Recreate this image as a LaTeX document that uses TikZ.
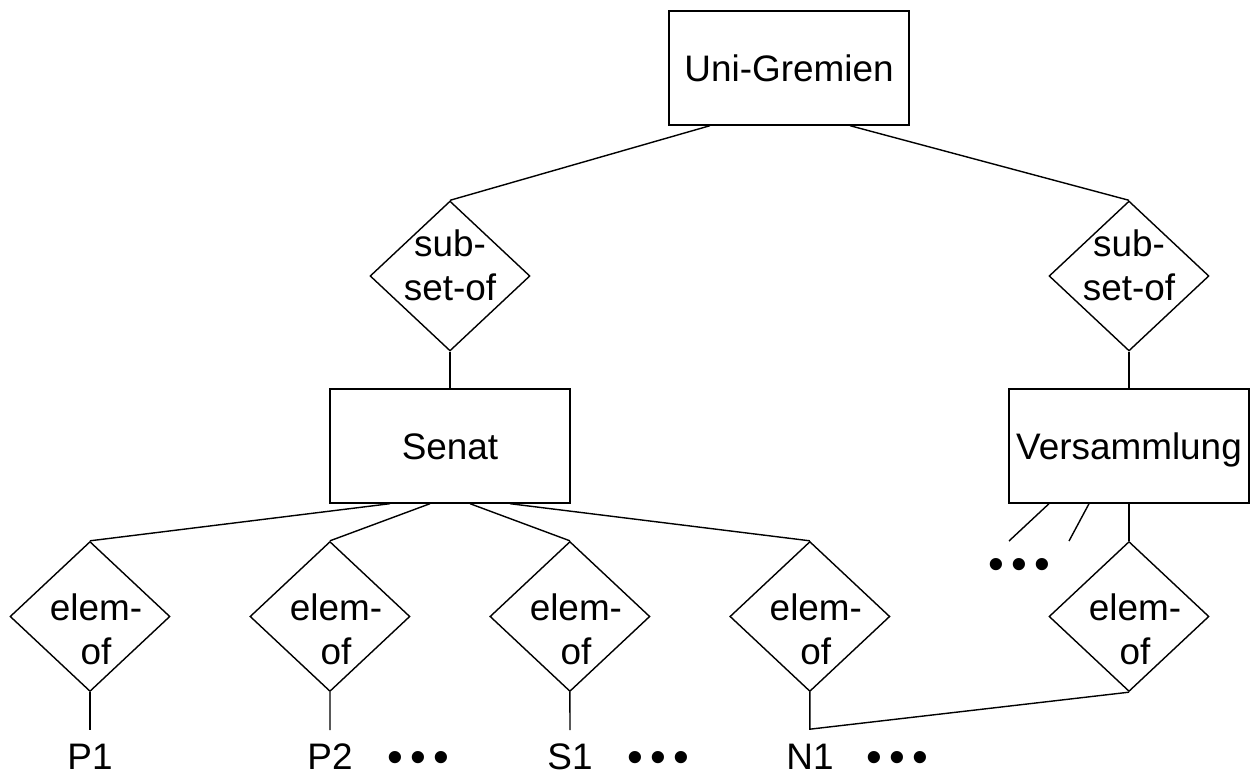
\documentclass[tikz,border=0pt]{standalone}
\usepackage{fontspec}
\setmainfont{Liberation Sans}
\usetikzlibrary{shapes.geometric}
\usetikzlibrary{positioning}
\usetikzlibrary{calc}
\newcommand{\relname}[4]{\raisebox{#2}[0pt][0pt]{\makebox[0pt]{\hspace*{#1}\begin{tabular}{@{}c@{}}#3\\#4\end{tabular}}}}
\newcommand{\moredots}{\raisebox{-0.35em}[0.15em][0.15em]{\textbullet\hspace{0.145cm}\textbullet\hspace{0.145cm}\textbullet}}
\tikzset{
    x=0.02cm, y=-0.02cm,
    node distance=4.8cm,
    every node/.append style={
        font=\fontsize{21}{25}\selectfont
    },
    entity/.style={
        draw,
        minimum width=4.8cm,
        minimum height=2.28cm,
        text height=15pt,
        text depth=0pt,
        inner sep=0pt
    },
    rel/.style={
        draw,
        diamond,
        minimum width=3.2cm,
        minimum height=3cm,
        inner sep=0pt
    },
    instance/.style={
        anchor=base,
        inner sep=0pt
    },
    etc/.style={
        inner sep=0pt,
        font=\fontsize{25.6}{30}\selectfont
    }
}

\begin{document}
\begin{tikzpicture}[line width=0.8pt]
                \useasboundingbox (0,0) rectangle (1250,776);

                \node[entity] (uni) at (789,68) {Uni-Gremien};
                \node[rel] (subl) at (450,276) {\relname{0pt}{-0.05cm}{sub-}{set-of}};
                \node[rel] (subr) at (1129,276) {\relname{0pt}{-0.05cm}{sub-}{set-of}};
                \node[entity] (senat) at (450,446) {Senat};
                \node[entity] (vers) at (1129,446) {Versammlung};

                \node[rel] (e1) at (90,616.5) {\relname{0.24cm}{-0.52cm}{elem-}{of}};
                \node[rel, right of=e1] (e2) {\relname{0.24cm}{-0.52cm}{elem-}{of}};
                \node[rel, right of=e2] (e3) {\relname{0.24cm}{-0.52cm}{elem-}{of}};
                \node[rel, right of=e3] (e4) {\relname{0.24cm}{-0.52cm}{elem-}{of}};
                \node[rel] (e5) at (1129,616.5) {\relname{0.24cm}{-0.52cm}{elem-}{of}};

                \node[instance] (p1) at (90,769) {P1};
                \node[instance] (p2) at (330,769) {P2};
                \node[instance] (s1) at (570,769) {S1};
                \node[instance] (n1) at (810,769) {N1};

                \node[etc] (dp) at (418,757) {\moredots};
                \node[etc] (ds) at (658,757) {\moredots};
                \node[etc] (dn) at (897,757) {\moredots};
                \node[etc] (dv) at (1019,564) {\moredots};

                \coordinate (st1) at (1009,541);
                \coordinate (st2) at (1069,541);

                \draw ($(uni.south)+(-79,0)$) -- (subl.north);
                \draw ($(uni.south)+(61,0)$) -- (subr.north);
                \draw (subl.south) -- (senat.north);
                \draw (subr.south) -- (vers.north);

                \foreach \e/\dx in {e1/-60, e2/-20, e3/20, e4/60}
                    \draw ($(senat.south)+(\dx,0)$) -- (\e.north);
                \draw (vers.south) -- (e5.north);
                \draw ($(vers.south)+(-80,0)$) -- (st1);
                \draw ($(vers.south)+(-40,0)$) -- (st2);

                \draw[shorten >=0.25cm] (e1.south) -- (p1.north);
                \draw[shorten >=0.25cm] (e2.south) -- (p2.north);
                \draw[shorten >=0.25cm] (e3.south) -- (s1.north);
                \draw (e4.south) -- ++(0,37) -- (e5.south);
            \end{tikzpicture}
\end{document}
